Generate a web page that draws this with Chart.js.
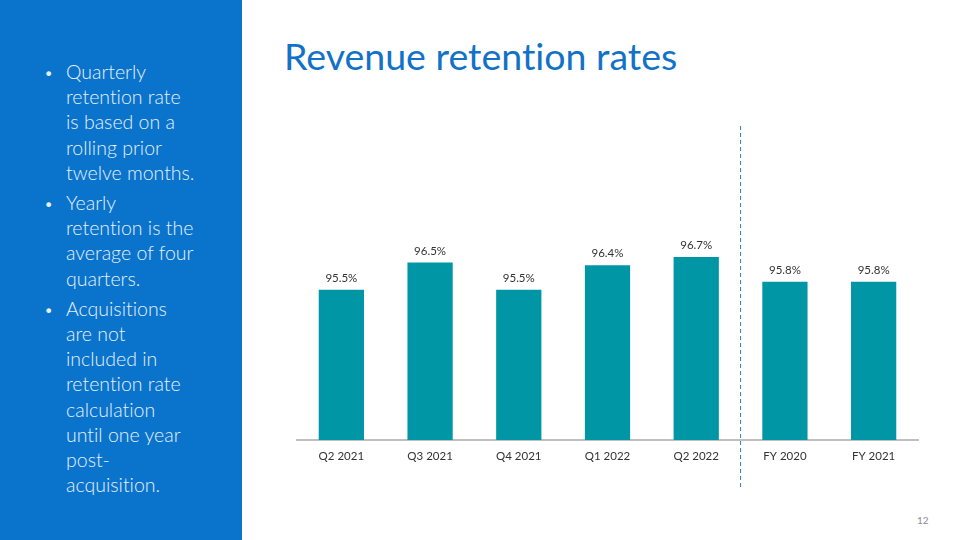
<!DOCTYPE html>
<html>
<head>
<meta charset="utf-8">
<script src="https://cdn.jsdelivr.net/npm/chart.js@4.4.1/dist/chart.umd.min.js"></script>
<style>
  html, body { margin: 0; padding: 0; background: #ffffff; }
  body { width: 960px; height: 540px; position: relative; overflow: hidden; font-family: Lato, "Open Sans", sans-serif; font-variant-ligatures: none; }
  #side { position: absolute; left: 0; top: 0; width: 242px; height: 540px; background: #0a74cc; }
  #side ul { margin: 0; padding: 0; list-style: none; position: absolute; left: 0; top: 59px; }
  #side li { position: relative; padding-left: 66px; color: #e6f0fb; font-size: 19.5px; font-weight: 300; line-height: 25.2px; margin-bottom: 5px; }
  #side li::before { content: "\2022"; position: absolute; left: 44px; top: 0; font-size: 16px; }
  #title { position: absolute; left: 284px; top: 33px; font-size: 37.5px; font-weight: 400; color: #1172c8; white-space: nowrap; }
  #page { position: absolute; left: 917px; top: 514px; font-size: 10px; color: #8c8c8c; }
  #wrap { position: absolute; left: 280px; top: 110px; width: 660px; height: 400px; }
</style>
</head>
<body>
<div id="side">
  <ul>
    <li>Quarterly<br>retention rate<br>is based on a<br>rolling prior<br>twelve months.</li>
    <li>Yearly<br>retention is the<br>average of four<br>quarters.</li>
    <li>Acquisitions<br>are not<br>included in<br>retention rate<br>calculation<br>until one year<br>post-<br>acquisition.</li>
  </ul>
</div>
<div id="title">Revenue retention rates</div>
<div id="page">12</div>
<div id="wrap"><canvas id="retentionChart"></canvas></div>
<script>
// Datos del gráfico
const periods = ['Q2 2021', 'Q3 2021', 'Q4 2021', 'Q1 2022', 'Q2 2022', 'FY 2020', 'FY 2021'];
const retentionRates = [95.5, 96.5, 95.5, 96.4, 96.7, 95.8, 95.8];
const dividerAfter = 4; // línea punteada entre trimestres y años

// Etiquetas encima de cada barra
const valueLabels = {
    id: 'valueLabels',
    afterDatasetsDraw(chart) {
        const ctx = chart.ctx;
        const meta = chart.getDatasetMeta(0);
        ctx.save();
        ctx.font = '11.5px Lato, "Open Sans", sans-serif';
        ctx.fillStyle = '#333333';
        ctx.textAlign = 'center';
        ctx.textBaseline = 'bottom';
        meta.data.forEach((bar, i) => {
            ctx.fillText(retentionRates[i].toFixed(1) + '%', bar.x, bar.y - 6);
        });
        ctx.restore();
    }
};

// Línea vertical punteada
const dividerLine = {
    id: 'dividerLine',
    afterDraw(chart) {
        const x = chart.scales.x;
        const area = chart.chartArea;
        const px = (x.getPixelForValue(dividerAfter) + x.getPixelForValue(dividerAfter + 1)) / 2;
        const ctx = chart.ctx;
        ctx.save();
        ctx.strokeStyle = '#2e7fc4';
        ctx.lineWidth = 1;
        ctx.setLineDash([4, 3]);
        ctx.beginPath();
        ctx.moveTo(px, area.top - 41);
        ctx.lineTo(px, area.bottom + 47);
        ctx.stroke();
        ctx.restore();
    }
};

const ctx = document.getElementById('retentionChart').getContext('2d');
new Chart(ctx, {
    type: 'bar',
    data: {
        labels: periods,
        datasets: [{
            data: retentionRates,
            backgroundColor: '#0096a6',
            borderWidth: 0,
            barPercentage: 0.51,
            categoryPercentage: 1
        }]
    },
    options: {
        responsive: true,
        maintainAspectRatio: false,
        animation: false,
        layout: { padding: { left: 17, right: 22, top: 57, bottom: 40 } },
        plugins: {
            legend: { display: false },
            tooltip: { enabled: false }
        },
        scales: {
            y: {
                display: false,
                min: 90,
                max: 100
            },
            x: {
                grid: { display: false, drawTicks: false },
                border: { color: '#bfbfbf', width: 2 },
                ticks: {
                    color: '#333333',
                    font: { family: 'Lato, "Open Sans", sans-serif', size: 11.5 },
                    padding: 9,
                    maxRotation: 0
                },
                afterFit(scale) { scale.height = 30; }
            }
        }
    },
    plugins: [valueLabels, dividerLine]
});
</script>
</body>
</html>
